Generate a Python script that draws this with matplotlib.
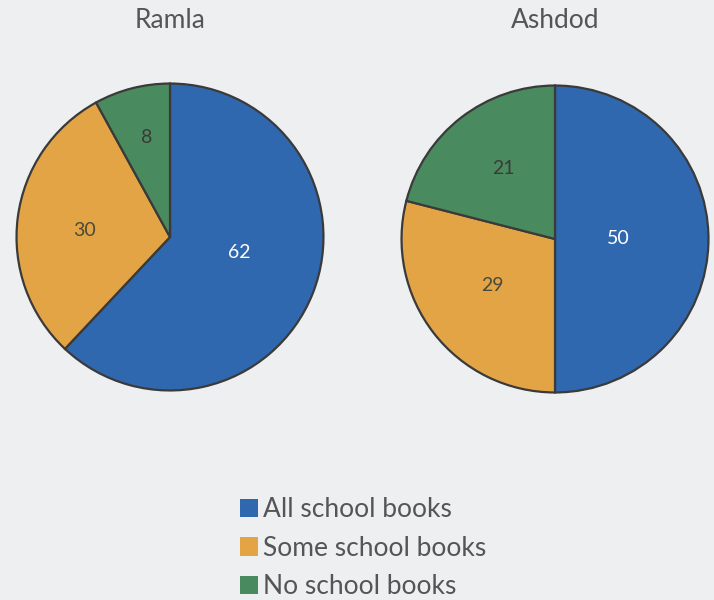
import matplotlib.pyplot as plt
from matplotlib.patches import Patch

# data
cities = ["Ramla", "Ashdod"]
categories = ["All school books", "Some school books", "No school books"]
ramla_values = [62, 30, 8]
ashdod_values = [50, 29, 21]
colors = ["#3068b0", "#e3a445", "#4a8a5f"]
label_colors = ["white", "#4a4a3a", "#3a3a3a"]

# label offsets inside each pie (fraction of radius)
ramla_label_pos = [(0.45, -0.10), (-0.56, 0.045), (-0.155, 0.65)]
ashdod_label_pos = [(0.41, 0.0), (-0.41, -0.30), (-0.335, 0.46)]

bg = "#eeeff0"
text_color = "#555555"
plt.rcParams['font.family'] = ['Lato', 'DejaVu Sans']

fig = plt.figure(figsize=(7.14, 6.0), dpi=100)
fig.patch.set_facecolor(bg)

W, H = 714, 600
R = 155
centers = [(170, 237), (555, 239)]

for city, vals, pos, (cx, cy) in zip(cities, [ramla_values, ashdod_values],
                                     [ramla_label_pos, ashdod_label_pos], centers):
    ax = fig.add_axes([(cx - R) / W, (H - cy - R) / H, 2 * R / W, 2 * R / H])
    ax.pie(vals, colors=colors, startangle=90, counterclock=False,
           wedgeprops=dict(edgecolor="#3a3a3a", linewidth=1.6))
    for v, (lx, ly), c in zip(vals, pos, label_colors):
        ax.text(lx, ly, str(v), ha="center", va="center", fontsize=14, color=c)
    ax.set_xlim(-1.01, 1.01)
    ax.set_ylim(-1.01, 1.01)
    ax.set_aspect("equal")
    ax.axis("off")
    fig.text(cx / W, 1 - 20 / H, city, ha="center", va="center",
             fontsize=19, color=text_color)

handles = [Patch(facecolor=c, edgecolor="none") for c in colors]
fig.legend(handles, categories, loc="upper left", bbox_to_anchor=(240 / W, 1 - 497 / H),
           frameon=False, fontsize=19, labelcolor=text_color,
           borderpad=0, borderaxespad=0,
           handlelength=0.68, handleheight=0.68, handletextpad=0.2, labelspacing=0.52)

fig.savefig("out.png", dpi=100, facecolor=bg)
